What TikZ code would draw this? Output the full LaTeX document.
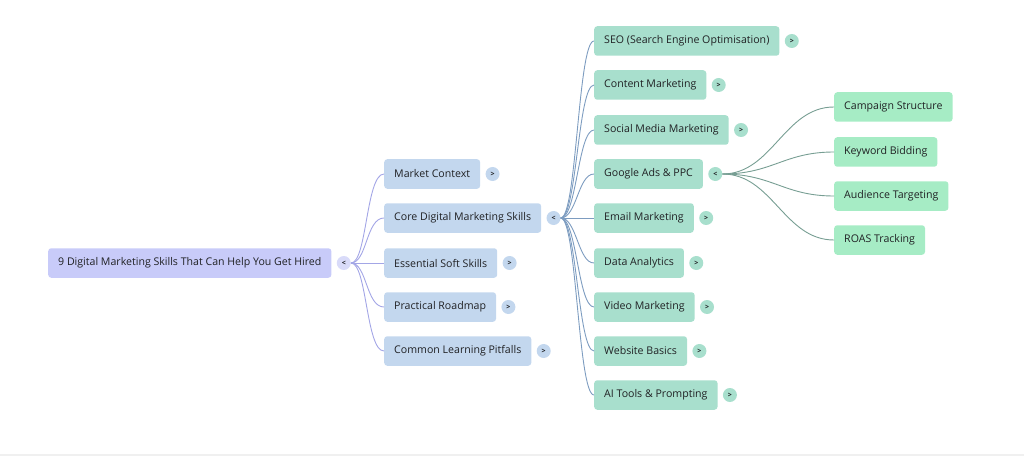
\documentclass[tikz,border=0pt]{standalone}
\usepackage{fontspec}
\setmainfont{Open Sans}
\usepackage{xcolor}
\definecolor{RootLav}{HTML}{C8CBF9}
\definecolor{RootTog}{HTML}{D9DBF9}
\definecolor{RootLink}{HTML}{A3A6E6}
\definecolor{TopicBlue}{HTML}{C3D7EE}
\definecolor{TopicLink}{HTML}{7D9CC0}
\definecolor{SkillTeal}{HTML}{A8DFCD}
\definecolor{SkillLink}{HTML}{779E93}
\definecolor{AdsGreen}{HTML}{A6ECC5}
\definecolor{InkGrey}{HTML}{202124}
\usetikzlibrary{positioning}

\begin{document}
\begin{tikzpicture}[x=1pt, y=-1pt, font=\fontsize{10.6}{12}\selectfont, text=InkGrey,
    box/.style={rectangle, rounded corners=3pt, anchor=west, minimum height=29.5pt, inner xsep=10pt},
    tog/.style={circle, inner sep=0pt, minimum size=14pt, font=\fontsize{7}{8}\selectfont\bfseries},
    link/.style={line width=0.9pt}]
        \useasboundingbox (0,0) rectangle (1024,457);

        % root
        \node (root) [box, fill=RootLav] at (48,263) {9 Digital Marketing Skills That Can Help You Get Hired};
        \node (roott) [tog, fill=RootTog, right=5pt of root] {<};

        % first level
        \node (market) [box, fill=TopicBlue] at (384,174) {Market Context};
        \node (core) [box, fill=TopicBlue] at (384,218) {Core Digital Marketing Skills};
        \node (soft) [box, fill=TopicBlue] at (384,263) {Essential Soft Skills};
        \node (roadmap) [box, fill=TopicBlue] at (384,307) {Practical Roadmap};
        \node (pitfalls) [box, fill=TopicBlue] at (384,351) {Common Learning Pitfalls};
        \node (markett) [tog, fill=TopicBlue, right=5pt of market] {>};
        \node (coret) [tog, fill=TopicBlue, right=5pt of core] {<};
        \node (softt) [tog, fill=TopicBlue, right=5pt of soft] {>};
        \node (roadmapt) [tog, fill=TopicBlue, right=5pt of roadmap] {>};
        \node (pitfallst) [tog, fill=TopicBlue, right=5pt of pitfalls] {>};

        % skills
        \node (seo) [box, fill=SkillTeal] at (594,41) {SEO (Search Engine Optimisation)};
        \node (content) [box, fill=SkillTeal] at (594,85) {Content Marketing};
        \node (social) [box, fill=SkillTeal] at (594,130) {Social Media Marketing};
        \node (ads) [box, fill=SkillTeal] at (594,174) {Google Ads \& PPC};
        \node (email) [box, fill=SkillTeal] at (594,218) {Email Marketing};
        \node (data) [box, fill=SkillTeal] at (594,263) {Data Analytics};
        \node (video) [box, fill=SkillTeal] at (594,307) {Video Marketing};
        \node (web) [box, fill=SkillTeal] at (594,351) {Website Basics};
        \node (ai) [box, fill=SkillTeal] at (594,395) {AI Tools \& Prompting};
        \node (seot) [tog, fill=SkillTeal, right=5pt of seo] {>};
        \node (contentt) [tog, fill=SkillTeal, right=5pt of content] {>};
        \node (socialt) [tog, fill=SkillTeal, right=5pt of social] {>};
        \node (adst) [tog, fill=SkillTeal, right=5pt of ads] {<};
        \node (emailt) [tog, fill=SkillTeal, right=5pt of email] {>};
        \node (datat) [tog, fill=SkillTeal, right=5pt of data] {>};
        \node (videot) [tog, fill=SkillTeal, right=5pt of video] {>};
        \node (webt) [tog, fill=SkillTeal, right=5pt of web] {>};
        \node (ait) [tog, fill=SkillTeal, right=5pt of ai] {>};

        % google ads
        \node (campaign) [box, fill=AdsGreen] at (834,107) {Campaign Structure};
        \node (keyword) [box, fill=AdsGreen] at (834,152) {Keyword Bidding};
        \node (audience) [box, fill=AdsGreen] at (834,196) {Audience Targeting};
        \node (roas) [box, fill=AdsGreen] at (834,240) {ROAS Tracking};

        \draw[link, RootLink] (roott.east) .. controls +(16,0) and +(-18,0) .. (market.west);
        \draw[link, RootLink] (roott.east) .. controls +(16,0) and +(-18,0) .. (core.west);
        \draw[link, RootLink] (roott.east) -- (soft.west);
        \draw[link, RootLink] (roott.east) .. controls +(16,0) and +(-18,0) .. (roadmap.west);
        \draw[link, RootLink] (roott.east) .. controls +(16,0) and +(-18,0) .. (pitfalls.west);

        \draw[link, TopicLink] (coret.east) .. controls +(16,0) and +(-16,0) .. (seo.west);
        \draw[link, TopicLink] (coret.east) .. controls +(16,0) and +(-16,0) .. (content.west);
        \draw[link, TopicLink] (coret.east) .. controls +(16,0) and +(-16,0) .. (social.west);
        \draw[link, TopicLink] (coret.east) .. controls +(16,0) and +(-16,0) .. (ads.west);
        \draw[link, TopicLink] (coret.east) -- (email.west);
        \draw[link, TopicLink] (coret.east) .. controls +(16,0) and +(-16,0) .. (data.west);
        \draw[link, TopicLink] (coret.east) .. controls +(16,0) and +(-16,0) .. (video.west);
        \draw[link, TopicLink] (coret.east) .. controls +(16,0) and +(-16,0) .. (web.west);
        \draw[link, TopicLink] (coret.east) .. controls +(16,0) and +(-16,0) .. (ai.west);

        \draw[link, SkillLink] (adst.east) .. controls +(50,0) and +(-50,0) .. (campaign.west);
        \draw[link, SkillLink] (adst.east) .. controls +(50,0) and +(-50,0) .. (keyword.west);
        \draw[link, SkillLink] (adst.east) .. controls +(50,0) and +(-50,0) .. (audience.west);
        \draw[link, SkillLink] (adst.east) .. controls +(50,0) and +(-50,0) .. (roas.west);

        \draw[gray!12, line width=1.5pt] (0,455) -- (1024,455);
    \end{tikzpicture}
\end{document}
